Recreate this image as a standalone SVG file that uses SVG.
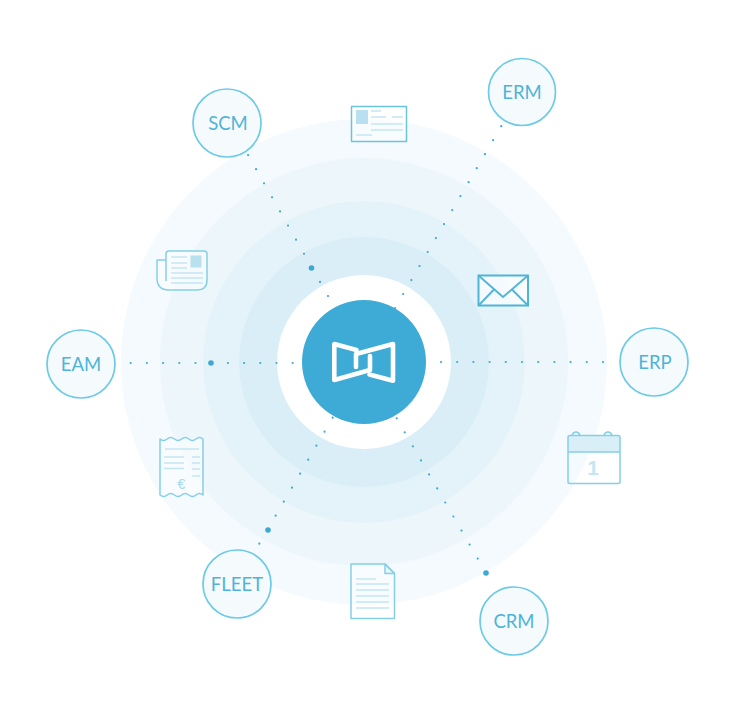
<svg xmlns="http://www.w3.org/2000/svg" width="750" height="720" viewBox="0 0 750 720">
<style>
.n{fill:#f5fbfd;stroke:#6ccae6;stroke-width:1.7}
.t{font-family:"Lato","Noto Sans",sans-serif;font-size:18.500px;fill:#4fb3d8;text-anchor:middle}
.c{fill:none;stroke:#3da9d2;stroke-width:2.200;stroke-linecap:round;stroke-dasharray:0 16.200}
.b{fill:#3da9d2}
.i{fill:#fff;fill-opacity:.45;stroke:#84cfe7;stroke-width:1.500;stroke-linejoin:round}
.l{fill:none;stroke:#c4e6f2;stroke-width:1.500}
.f{fill:#b9e0ef}
.k{fill:none;stroke:#fff;stroke-width:4.600;stroke-linejoin:round;stroke-linecap:round}
</style>
<rect width="750" height="720" fill="#fff"/>
<g id="rings">
<circle cx="364" cy="362" r="243" fill="#f4fafd"/>
<circle cx="364" cy="362" r="204" fill="#edf7fb"/>
<circle cx="364" cy="362" r="161" fill="#e4f3f9"/>
<circle cx="364" cy="362" r="125" fill="#d9eef7"/>
<circle cx="364" cy="362" r="87" fill="#fff"/>
</g>
<g id="connectors">
<path class="c" d="M292.700 363H128"/>
<path class="c" d="M441 362H608"/>
<path class="c" d="M328 296L248 155"/>
<path class="c" d="M395 308L502 125"/>
<path class="c" d="M396.700 418.300L486 573"/>
<path class="c" d="M332.700 417.700L258 546"/>
<circle class="b" cx="211" cy="363" r="2.800"/>
<circle class="b" cx="311.500" cy="268" r="2.800"/>
<circle class="b" cx="486" cy="573" r="2.800"/>
<circle class="b" cx="268" cy="530" r="2.800"/>
</g>
<g id="hub">
<circle cx="364" cy="362" r="62" fill="#3dabd6"/>
<path class="k" d="M356.500 350L334.300 344V380L370 370V356"/>
<path class="k" d="M369.500 374.500L393 380.700V344L356 354V367"/>
</g>
<g id="scm"><circle class="n" cx="227" cy="123" r="34"/><text class="t" x="228" y="129.500">SCM</text></g>
<g id="erm"><circle class="n" cx="522" cy="92" r="33.500"/><text class="t" x="522" y="98.500">ERM</text></g>
<g id="erp"><circle class="n" cx="654" cy="362" r="34"/><text class="t" x="655" y="368.500">ERP</text></g>
<g id="crm"><circle class="n" cx="514" cy="621" r="34"/><text class="t" x="514" y="627.500">CRM</text></g>
<g id="fleet"><circle class="n" cx="237" cy="584" r="34"/><text class="t" x="237" y="590.500">FLEET</text></g>
<g id="eam"><circle class="n" cx="81" cy="364" r="34"/><text class="t" x="81" y="370.500">EAM</text></g>
<g id="id-card">
<rect class="i" x="351.500" y="106.500" width="55" height="35" style="stroke:#6cc3df"/>
<rect class="f" x="356" y="110" width="12" height="14"/>
<path class="l" d="M371 111H381M371 117H386M392 117H403M371 124H403M371 130H403M356 135H372"/>
</g>
<g id="newspaper">
<path class="i" d="M166 260H157V278Q157 290 169 290H197Q207 290 207 280V254Q207 251 204 251H169Q166 251 166 254V281"/>
<rect class="f" x="190.500" y="255.500" width="11" height="12"/>
<path class="l" d="M171 257H187M171 263H187M171 268H187M171 273H203M171 278H203M171 283H203"/>
</g>
<g id="receipt">
<path class="i" d="M160 439q3.600 3 7.200 0t7.200 0 7.200 0 7.200 0 7.200 0 7 0V495q-3.600-3-7 0t-7.200 0-7.200 0-7.200 0-7.200 0-7.200 0Z"/>
<path class="l" d="M165 449H199M164 457H184M164 463H184M164 468.500H184M192 457H200M192 463H200M192 469H200M192 476H200"/>
<text x="181.500" y="489" font-family="'Liberation Sans',sans-serif" font-size="14" fill="#a8d8ea" text-anchor="middle">€</text>
</g>
<g id="document">
<path class="i" d="M351 564H385L394.500 573.500V618.500H351Z"/>
<path class="i" d="M385 564V573.500H394.500Z" style="fill:#d6eef6"/>
<path class="l" d="M356 579H376M356 584H389M356 590H389M356 596H389M356 602H389M356 608H389"/>
</g>
<g id="calendar">
<rect x="568" y="436" width="52" height="16" fill="#d8eff7"/>
<path class="i" d="M570 435.500H618Q620 435.500 620 437.500V482Q620 483.500 618 483.500H570Q568 483.500 568 482V437.500Q568 435.500 570 435.500ZM568 452H620M572 435.500Q573 432 576 432T580 435.500M604 435.500Q605 432 608 432T612 435.500" style="fill:none"/>
<text x="593" y="475" font-family="'Liberation Sans',sans-serif" font-size="21" font-weight="bold" fill="#c4e6f2" text-anchor="middle">1</text>
</g>
<g id="envelope">
<path d="M478.500 275.500H528V305.500H478.500Z" fill="#fff" fill-opacity=".6" stroke="#4fb4d8" stroke-width="2"/>
<path d="M478.500 275.500L503 297L528 275.500M478.500 305.500L494 289.500M528 305.500L512 289.500" fill="none" stroke="#4fb4d8" stroke-width="1.800"/>
</g>
</svg>
